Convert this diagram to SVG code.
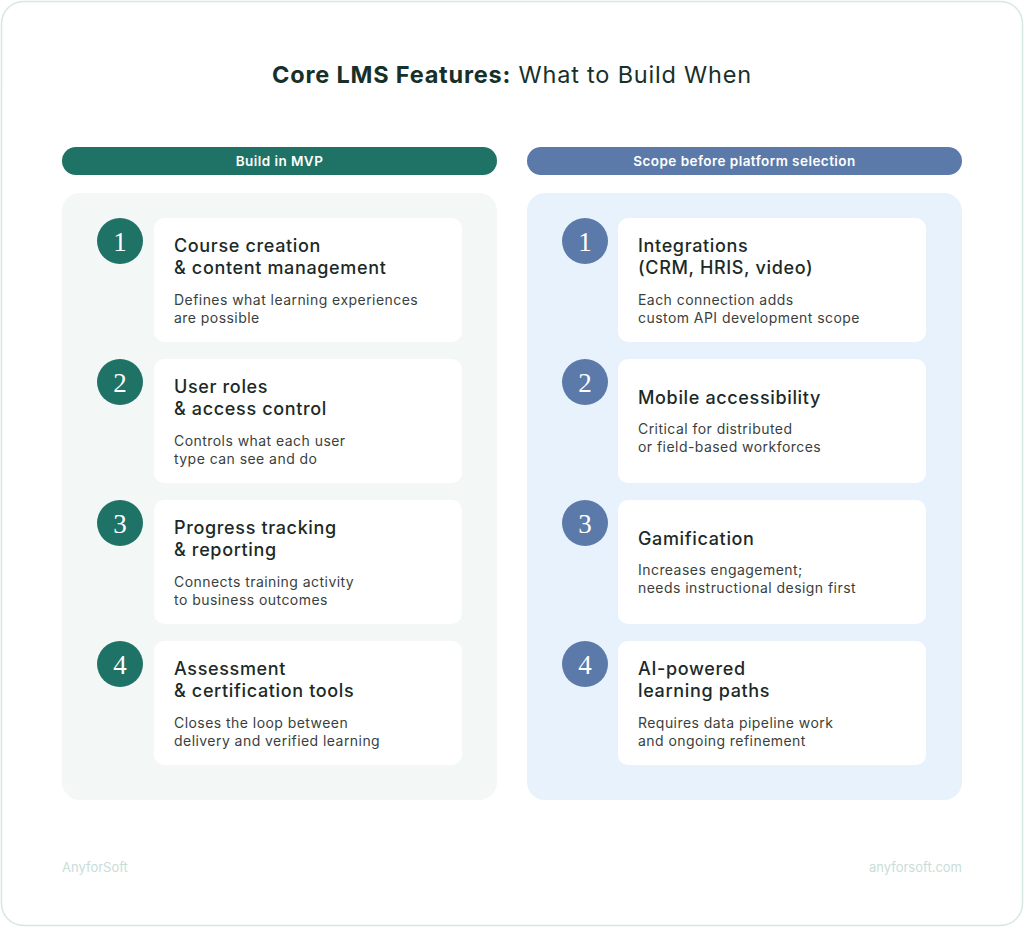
<svg xmlns="http://www.w3.org/2000/svg" width="1024" height="927" viewBox="0 0 1024 927">
<style>
.title{font-family:Inter,"Noto Sans",sans-serif;font-size:23.5px;letter-spacing:0.8px;fill:#18302a}
.pill{font-family:Inter,"Noto Sans",sans-serif;font-size:13.5px;font-weight:600;letter-spacing:0.45px;fill:#ffffff}
.card{fill:#ffffff}
.num{font-family:"Liberation Serif","DejaVu Serif",serif;font-size:27px;fill:#ffffff}
.h{font-family:Inter,"Noto Sans",sans-serif;font-size:18px;font-weight:500;letter-spacing:0.65px;fill:#1c2a27}
.d{font-family:Inter,"Noto Sans",sans-serif;font-size:14px;letter-spacing:0.45px;fill:#3a3f3e}
.foot{font-family:Inter,"Noto Sans",sans-serif;font-size:13px;fill:#c9ddd7}
.cg{fill:#1f7266}
.cb{fill:#5b7aa9}
</style>
<rect x="1.5" y="1.5" width="1021" height="924" rx="22" fill="#ffffff" stroke="#d5e7e1" stroke-width="1.5"/>
<text class="title" x="512" y="83" text-anchor="middle"><tspan font-weight="700">Core LMS Features:</tspan> What to Build When</text>

<g id="col-mvp">
<rect x="62" y="147" width="435" height="28" rx="14" class="cg"/>
<text class="pill" x="279.5" y="166" text-anchor="middle">Build in MVP</text>
<rect x="62" y="193" width="435" height="607" rx="18" fill="#f3f7f6"/>
</g>
<g id="col-scope">
<rect x="527" y="147" width="435" height="28" rx="14" class="cb"/>
<text class="pill" x="744.5" y="166" text-anchor="middle">Scope before platform selection</text>
<rect x="527" y="193" width="435" height="607" rx="18" fill="#e8f2fc"/>
</g>

<g id="mvp-1">
<circle cx="120" cy="241" r="23" class="cg"/><text class="num" x="120" y="251" text-anchor="middle">1</text>
<rect x="154" y="218" width="308" height="124" rx="10" class="card"/>
<text class="h" x="174" y="252">Course creation</text><text class="h" x="174" y="274">&amp; content management</text>
<text class="d" x="174" y="305">Defines what learning experiences</text><text class="d" x="174" y="323">are possible</text>
</g>
<g id="mvp-2">
<circle cx="120" cy="382" r="23" class="cg"/><text class="num" x="120" y="392" text-anchor="middle">2</text>
<rect x="154" y="359" width="308" height="124" rx="10" class="card"/>
<text class="h" x="174" y="393">User roles</text><text class="h" x="174" y="415">&amp; access control</text>
<text class="d" x="174" y="446">Controls what each user</text><text class="d" x="174" y="464">type can see and do</text>
</g>
<g id="mvp-3">
<circle cx="120" cy="523" r="23" class="cg"/><text class="num" x="120" y="533" text-anchor="middle">3</text>
<rect x="154" y="500" width="308" height="124" rx="10" class="card"/>
<text class="h" x="174" y="534">Progress tracking</text><text class="h" x="174" y="556">&amp; reporting</text>
<text class="d" x="174" y="587">Connects training activity</text><text class="d" x="174" y="605">to business outcomes</text>
</g>
<g id="mvp-4">
<circle cx="120" cy="664" r="23" class="cg"/><text class="num" x="120" y="674" text-anchor="middle">4</text>
<rect x="154" y="641" width="308" height="124" rx="10" class="card"/>
<text class="h" x="174" y="675">Assessment</text><text class="h" x="174" y="697">&amp; certification tools</text>
<text class="d" x="174" y="728">Closes the loop between</text><text class="d" x="174" y="746">delivery and verified learning</text>
</g>

<g id="scope-1">
<circle cx="585" cy="241" r="23" class="cb"/><text class="num" x="585" y="251" text-anchor="middle">1</text>
<rect x="618" y="218" width="308" height="124" rx="10" class="card"/>
<text class="h" x="638" y="252">Integrations</text><text class="h" x="638" y="274">(CRM, HRIS, video)</text>
<text class="d" x="638" y="305">Each connection adds</text><text class="d" x="638" y="323">custom API development scope</text>
</g>
<g id="scope-2">
<circle cx="585" cy="382" r="23" class="cb"/><text class="num" x="585" y="392" text-anchor="middle">2</text>
<rect x="618" y="359" width="308" height="124" rx="10" class="card"/>
<text class="h" x="638" y="404">Mobile accessibility</text>
<text class="d" x="638" y="434">Critical for distributed</text><text class="d" x="638" y="452">or field-based workforces</text>
</g>
<g id="scope-3">
<circle cx="585" cy="523" r="23" class="cb"/><text class="num" x="585" y="533" text-anchor="middle">3</text>
<rect x="618" y="500" width="308" height="124" rx="10" class="card"/>
<text class="h" x="638" y="545">Gamification</text>
<text class="d" x="638" y="575">Increases engagement;</text><text class="d" x="638" y="593">needs instructional design first</text>
</g>
<g id="scope-4">
<circle cx="585" cy="664" r="23" class="cb"/><text class="num" x="585" y="674" text-anchor="middle">4</text>
<rect x="618" y="641" width="308" height="124" rx="10" class="card"/>
<text class="h" x="638" y="675">AI-powered</text><text class="h" x="638" y="697">learning paths</text>
<text class="d" x="638" y="728">Requires data pipeline work</text><text class="d" x="638" y="746">and ongoing refinement</text>
</g>

<g id="connectors"></g>

<text class="foot" x="62" y="872">AnyforSoft</text>
<text class="foot" x="962" y="872" text-anchor="end">anyforsoft.com</text>
</svg>
